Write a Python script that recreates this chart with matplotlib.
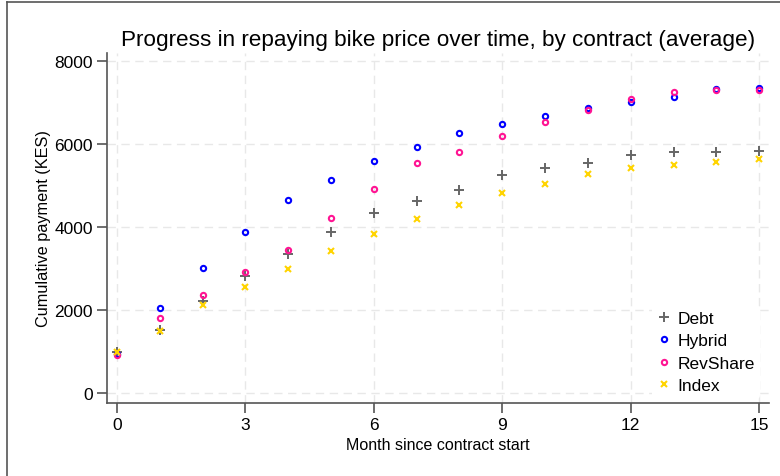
import numpy as np
import matplotlib
matplotlib.use("Agg")
import matplotlib.pyplot as plt
from matplotlib.lines import Line2D

plt.rcParams['font.family'] = ['Liberation Sans', 'DejaVu Sans']

# data (monthly averages, KES)
months = list(range(16))
debt = [990, 1525, 2231, 2819, 3349, 3887, 4352, 4630, 4906, 5267,
        5422, 5557, 5742, 5822, 5822, 5831]
hybrid = [950, 2048, 3019, 3880, 4651, 5147, 5598, 5935, 6265, 6489,
          6689, 6885, 7012, 7133, 7340, 7364]
revshare = [930, 1807, 2376, 2916, 3453, 4217, 4930, 5557, 5822, 6193,
            6545, 6815, 7084, 7253, 7301, 7316]
index = [1000, 1508, 2128, 2569, 2995, 3422, 3846, 4193, 4530, 4826,
         5051, 5277, 5429, 5501, 5573, 5653]
xticks = [0, 3, 6, 9, 12, 15]
yticks = [0, 2000, 4000, 6000, 8000]

fig = plt.figure(figsize=(7.8, 4.77), dpi=100)
ax = fig.add_axes([107/780, 73/477, (769-107)/780, (404-54)/477])

ax.plot(months, debt, linestyle='none', marker='+', ms=6.5, mew=1.4,
        color='#666666', label='Debt', zorder=3)
ax.plot(months, hybrid, linestyle='none', marker='o', ms=3.8, mew=1.5,
        mfc='none', mec='#0000ff', label='Hybrid', zorder=3)
ax.plot(months, revshare, linestyle='none', marker='o', ms=3.8, mew=1.5,
        mfc='none', mec='#ff1493', label='RevShare', zorder=3)
ax.plot(months, index, linestyle='none', marker='x', ms=4, mew=1.5,
        color='#ffd400', label='Index', zorder=3)

ax.set_xlim(-0.234, 15.23)
ax.set_ylim(-234, 8200)
ax.set_xticks(xticks)
ax.set_yticks(yticks)
ax.grid(True, color='#e8e8e8', linestyle=(0, (6, 4)), linewidth=1)
ax.set_axisbelow(True)

for s in ['top', 'right']:
    ax.spines[s].set_visible(False)
for s in ['left', 'bottom']:
    ax.spines[s].set_color('#555555')
    ax.spines[s].set_linewidth(1.2)
ax.tick_params(length=7, width=1.2, color='#555555', labelsize=12.5, pad=3)

ax.set_xlabel('Month since contract start', fontsize=11.5, labelpad=3.5)
ax.set_ylabel('Cumulative payment (KES)', fontsize=11.7, labelpad=2.5)
ax.set_title('Progress in repaying bike price over time, by contract (average)',
             fontsize=16.2, pad=5.5)

leg = ax.legend(loc='lower right', bbox_to_anchor=(1.0, -0.012), fontsize=12.5,
                frameon=True, facecolor='white', edgecolor='none', framealpha=1,
                handlelength=0.8, handletextpad=0.4, labelspacing=0.42,
                borderpad=0.3)

# outer frame (left and top edges visible in the reference)
fig.add_artist(Line2D([7/780, 7/780], [0, 1 - 2.5/477], transform=fig.transFigure,
                      color='#555555', lw=1.2))
fig.add_artist(Line2D([7/780, 1], [1 - 2.5/477, 1 - 2.5/477], transform=fig.transFigure,
                      color='#555555', lw=1.2))

fig.savefig('out.png', dpi=100)
